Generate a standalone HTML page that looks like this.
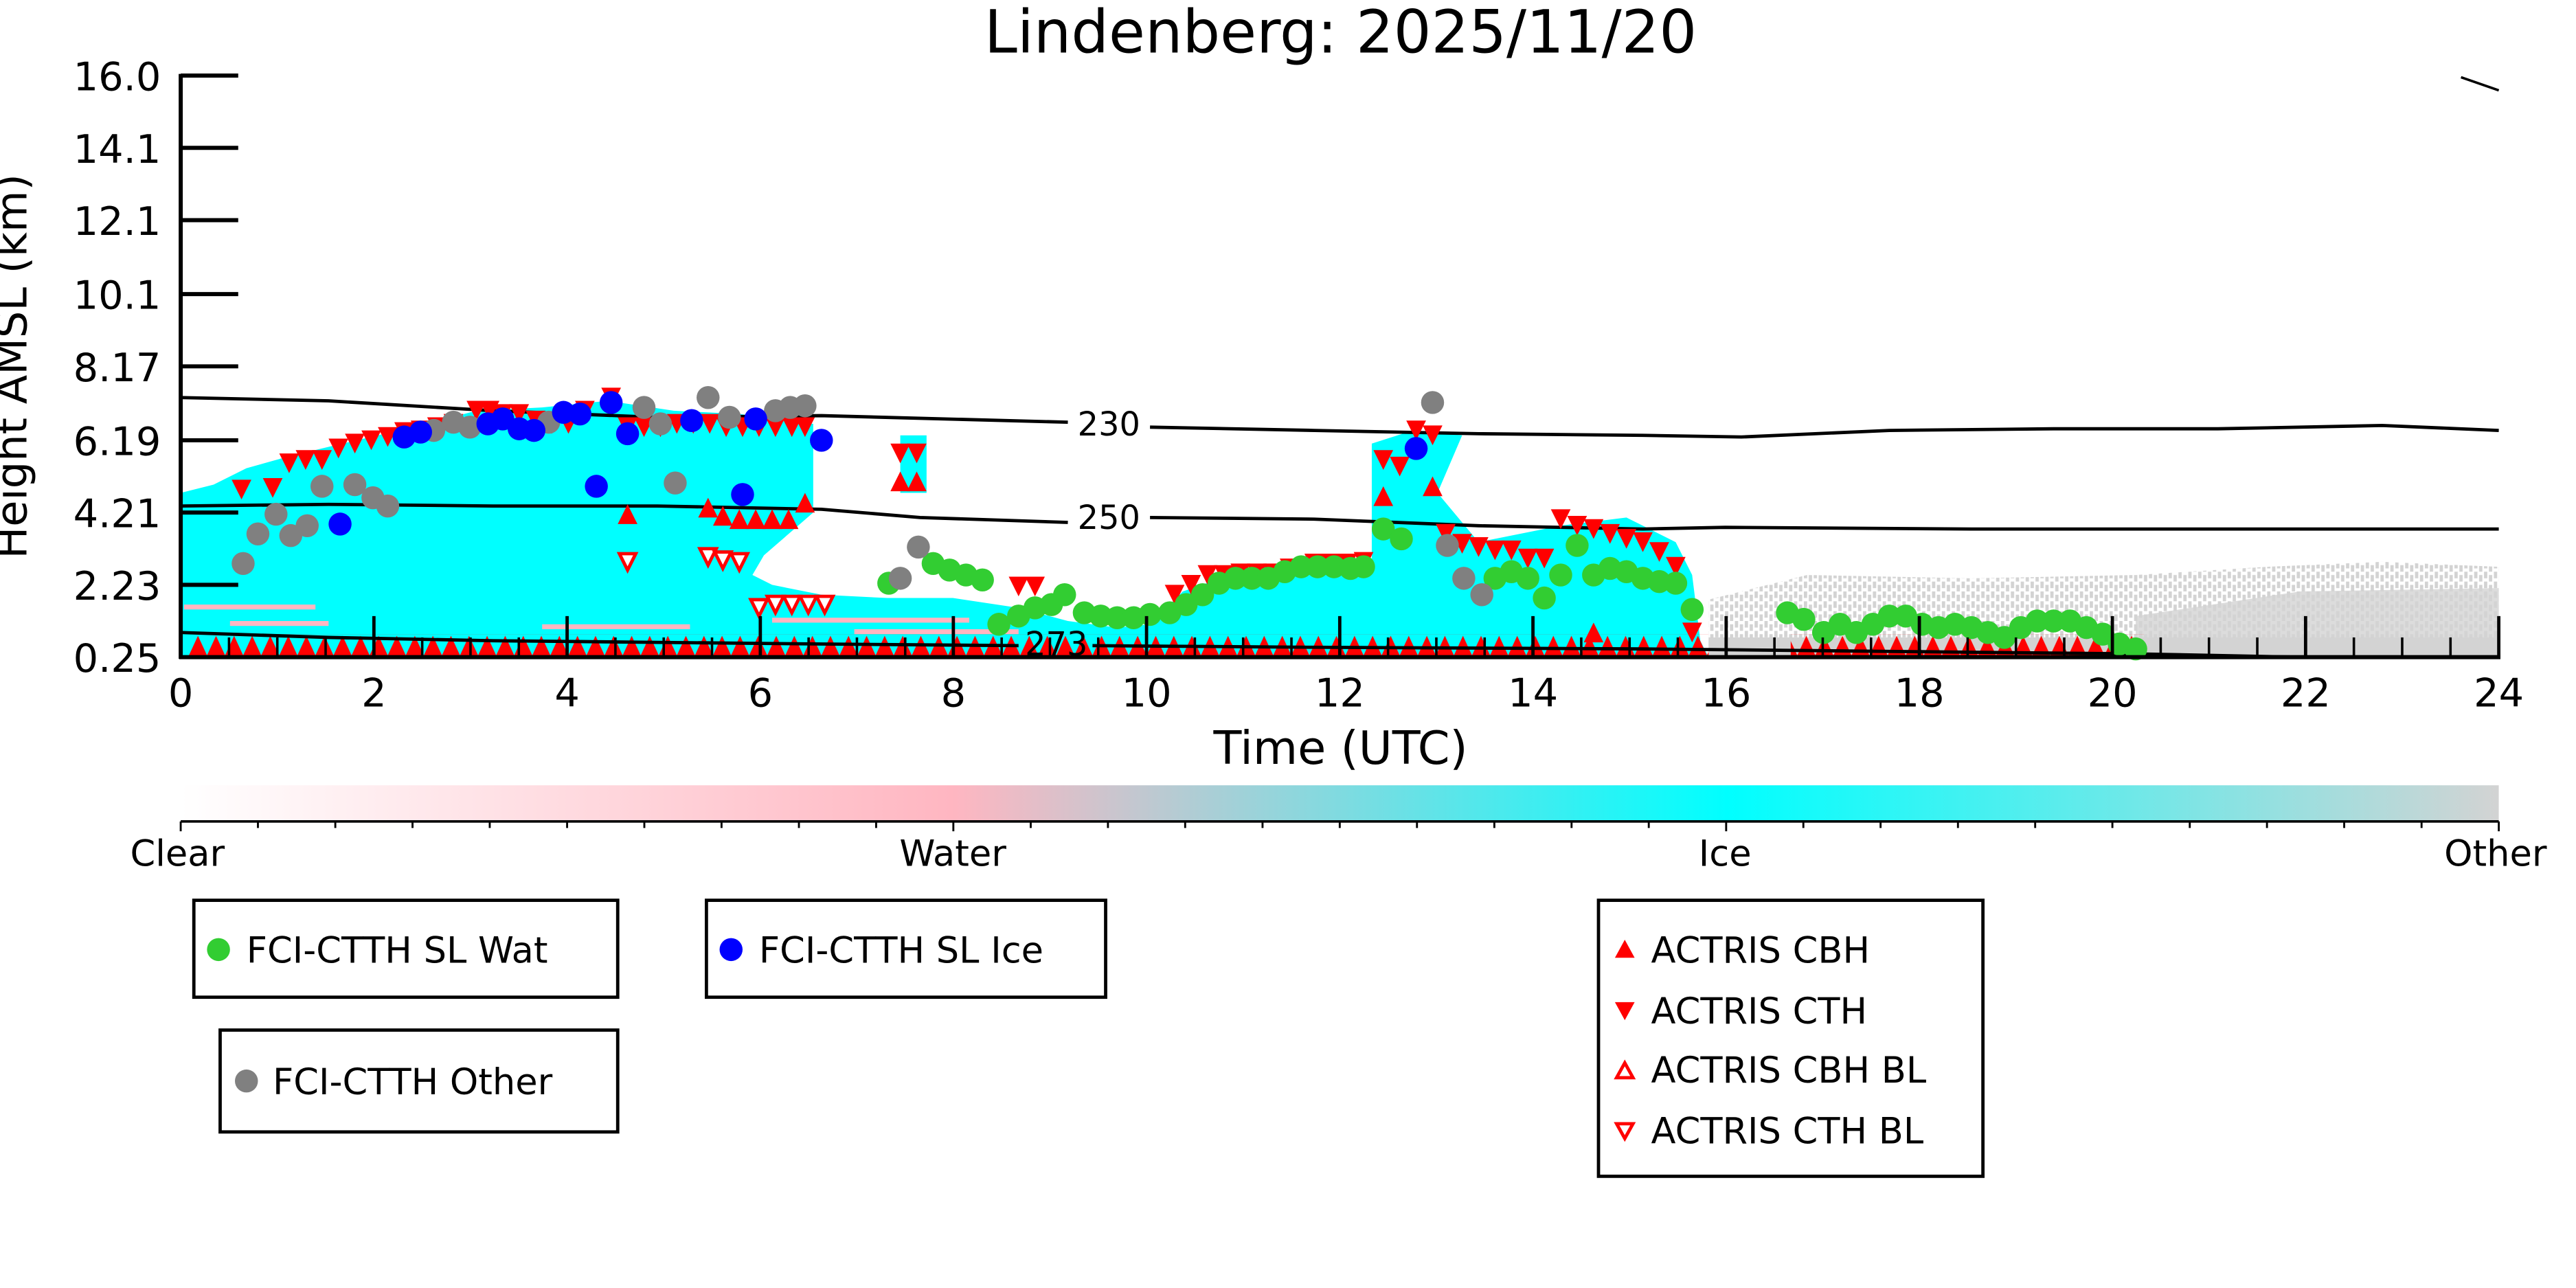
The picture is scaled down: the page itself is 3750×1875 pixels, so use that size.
<!DOCTYPE html>
<html><head><meta charset="utf-8"><style>
html,body{margin:0;padding:0;background:#fff;}
svg{display:block;}
text{font-family:"DejaVu Sans","Liberation Sans",sans-serif;}
</style></head><body>
<svg width="3750" height="1875" viewBox="0 0 1568 784" preserveAspectRatio="none" xmlns="http://www.w3.org/2000/svg">
<defs>
<circle id="c" r="7"/>
<path id="d" d="M-6,-6 L6,-6 L0,6Z"/>
<path id="u" d="M-6,6 L6,6 L0,-6Z"/>
<path id="od" d="M-5,-5 L5,-5 L0,5Z" fill="#fff" stroke="red" stroke-width="2"/>
<pattern id="tri" x="115" y="386" width="11" height="14" patternUnits="userSpaceOnUse">
<path d="M-0.5,14 L11.5,14 L5.5,1Z" fill="red"/>
</pattern>
<pattern id="spk" x="0" y="0" width="6" height="6" patternUnits="userSpaceOnUse">
<rect x="0" y="0" width="2" height="4" fill="#d3d3d3"/><rect x="3" y="2" width="2" height="4" fill="#d3d3d3"/>
</pattern>
<linearGradient id="cb" x1="0" x2="1" y1="0" y2="0">
<stop offset="0" stop-color="#ffffff"/>
<stop offset="0.333" stop-color="#ffb6c1"/>
<stop offset="0.667" stop-color="#00ffff"/>
<stop offset="1" stop-color="#d3d3d3"/>
</linearGradient>
</defs>

<text x="816" y="32" font-size="36" text-anchor="middle">Lindenberg: 2025/11/20</text>

<polygon points="1040,365 1100,350 1200,352 1300,350 1380,345 1450,342 1521,345 1521,400 1040,400" fill="url(#spk)"/>
<polygon points="1300,375 1400,360 1521,358 1521,400 1300,400" fill="#d3d3d3" opacity="0.8"/>
<rect x="1040" y="388" width="481" height="12" fill="#d3d3d3"/>

<polygon fill="#00ffff" points="110,300 130,295 150,285 175,278 200,272 230,265 260,258 290,250 330,248 370,244 410,250 450,252 495,258 495,312 480,325 465,338 458,350 470,356 500,362 540,364 580,364 620,370 650,378 680,382 700,380 720,360 760,346 800,342 835,340 835,270 860,262 890,265 875,300 900,330 950,320 990,315 1020,330 1030,350 1035,390 1040,400 110,400"/>
<rect x="548" y="265" width="16" height="35" fill="#00ffff"/>
<g fill="#ffb6c1">
<rect x="112" y="368" width="80" height="3"/><rect x="140" y="378" width="60" height="3"/><rect x="330" y="380" width="90" height="3"/><rect x="470" y="376" width="120" height="3"/><rect x="520" y="383" width="100" height="3"/>
</g>

<rect x="115" y="386" width="925" height="14" fill="url(#tri)"/>
<rect x="1090" y="386" width="215" height="14" fill="url(#tri)"/>

<g fill="none" stroke="#000" stroke-width="2">
<polyline points="110,242 200,244 300,250 400,254 500,253 650,257"/>
<polyline points="700,260 800,262 900,264 1000,265 1060,266 1150,262 1250,261 1350,261 1450,259 1521,262"/>
<polyline points="110,308 200,307 300,308 400,308 500,310 560,315 650,318"/>
<polyline points="700,315 800,316 850,318 900,320 1000,322 1050,321 1200,322 1350,322 1521,322"/>
<polyline points="110,385 200,388 300,390 400,391 500,392 620,393"/>
<polyline points="665,393 800,394 1000,395 1200,397 1300,398 1400,400"/>
</g>
<text x="675" y="265" font-size="20" text-anchor="middle">230</text>
<text x="675" y="322" font-size="20" text-anchor="middle">250</text>
<text x="643" y="399" font-size="20" text-anchor="middle">273</text>

<g fill="red">
<use href="#d" x="147" y="298"/><use href="#d" x="166" y="297"/><use href="#d" x="176" y="282"/><use href="#d" x="186" y="280"/><use href="#d" x="196" y="280"/><use href="#d" x="206" y="273"/><use href="#d" x="216" y="270"/><use href="#d" x="226" y="268"/><use href="#d" x="236" y="266"/><use href="#d" x="246" y="263"/><use href="#d" x="256" y="262"/><use href="#d" x="266" y="260"/><use href="#d" x="276" y="258"/><use href="#d" x="290" y="250"/><use href="#d" x="298" y="250"/><use href="#d" x="306" y="252"/><use href="#d" x="316" y="252"/><use href="#d" x="326" y="256"/><use href="#d" x="336" y="258"/><use href="#d" x="346" y="258"/><use href="#d" x="356" y="250"/><use href="#d" x="372" y="242"/><use href="#d" x="382" y="260"/><use href="#d" x="392" y="260"/><use href="#d" x="402" y="260"/><use href="#d" x="412" y="258"/><use href="#d" x="422" y="258"/><use href="#d" x="432" y="258"/><use href="#d" x="442" y="260"/><use href="#d" x="452" y="260"/><use href="#d" x="462" y="260"/><use href="#d" x="472" y="260"/><use href="#d" x="482" y="260"/><use href="#d" x="490" y="260"/><use href="#d" x="548" y="276"/><use href="#d" x="558" y="276"/><use href="#d" x="620" y="357"/><use href="#d" x="630" y="357"/><use href="#d" x="715" y="362"/><use href="#d" x="725" y="356"/><use href="#d" x="735" y="350"/><use href="#d" x="745" y="350"/><use href="#d" x="755" y="349"/><use href="#d" x="765" y="349"/><use href="#d" x="775" y="349"/><use href="#d" x="785" y="346"/><use href="#d" x="800" y="343"/><use href="#d" x="810" y="343"/><use href="#d" x="820" y="343"/><use href="#d" x="830" y="342"/><use href="#d" x="842" y="280"/><use href="#d" x="852" y="284"/><use href="#d" x="862" y="262"/><use href="#d" x="872" y="265"/><use href="#d" x="880" y="325"/><use href="#d" x="890" y="331"/><use href="#d" x="900" y="333"/><use href="#d" x="910" y="335"/><use href="#d" x="920" y="335"/><use href="#d" x="930" y="340"/><use href="#d" x="940" y="340"/><use href="#d" x="950" y="316"/><use href="#d" x="960" y="320"/><use href="#d" x="970" y="322"/><use href="#d" x="980" y="325"/><use href="#d" x="990" y="328"/><use href="#d" x="1000" y="330"/><use href="#d" x="1010" y="336"/><use href="#d" x="1020" y="345"/><use href="#d" x="1030" y="385"/>
<use href="#u" x="382" y="313"/><use href="#u" x="431" y="309"/><use href="#u" x="440" y="314"/><use href="#u" x="450" y="316"/><use href="#u" x="460" y="316"/><use href="#u" x="470" y="316"/><use href="#u" x="480" y="316"/><use href="#u" x="490" y="306"/><use href="#u" x="548" y="293"/><use href="#u" x="558" y="293"/><use href="#u" x="842" y="302"/><use href="#u" x="872" y="296"/><use href="#u" x="970" y="385"/>
</g>
<g>
<use href="#od" x="382" y="342"/><use href="#od" x="431" y="339"/><use href="#od" x="440" y="341"/><use href="#od" x="450" y="342"/><use href="#od" x="462" y="370"/><use href="#od" x="472" y="368"/><use href="#od" x="482" y="368"/><use href="#od" x="492" y="368"/><use href="#od" x="502" y="368"/>
</g>

<g fill="#32cd32">
<use href="#c" x="541" y="355"/><use href="#c" x="568" y="343"/><use href="#c" x="578" y="347"/><use href="#c" x="588" y="350"/><use href="#c" x="598" y="353"/><use href="#c" x="608" y="380"/><use href="#c" x="620" y="375"/><use href="#c" x="630" y="370"/><use href="#c" x="640" y="368"/><use href="#c" x="648" y="362"/><use href="#c" x="660" y="373"/><use href="#c" x="670" y="375"/><use href="#c" x="680" y="376"/><use href="#c" x="690" y="376"/><use href="#c" x="700" y="374"/><use href="#c" x="712" y="373"/><use href="#c" x="722" y="368"/><use href="#c" x="732" y="362"/><use href="#c" x="742" y="355"/><use href="#c" x="752" y="352"/><use href="#c" x="762" y="352"/><use href="#c" x="772" y="352"/><use href="#c" x="782" y="348"/><use href="#c" x="792" y="345"/><use href="#c" x="802" y="345"/><use href="#c" x="812" y="345"/><use href="#c" x="822" y="346"/><use href="#c" x="830" y="345"/><use href="#c" x="842" y="322"/><use href="#c" x="853" y="328"/><use href="#c" x="910" y="352"/><use href="#c" x="920" y="348"/><use href="#c" x="930" y="352"/><use href="#c" x="940" y="364"/><use href="#c" x="950" y="350"/><use href="#c" x="960" y="332"/><use href="#c" x="970" y="350"/><use href="#c" x="980" y="346"/><use href="#c" x="990" y="348"/><use href="#c" x="1000" y="352"/><use href="#c" x="1010" y="354"/><use href="#c" x="1020" y="355"/><use href="#c" x="1030" y="371"/><use href="#c" x="1088" y="373"/><use href="#c" x="1098" y="377"/><use href="#c" x="1110" y="385"/><use href="#c" x="1120" y="380"/><use href="#c" x="1130" y="385"/><use href="#c" x="1140" y="380"/><use href="#c" x="1150" y="375"/><use href="#c" x="1160" y="375"/><use href="#c" x="1170" y="380"/><use href="#c" x="1180" y="382"/><use href="#c" x="1190" y="380"/><use href="#c" x="1200" y="382"/><use href="#c" x="1210" y="385"/><use href="#c" x="1220" y="388"/><use href="#c" x="1230" y="382"/><use href="#c" x="1240" y="378"/><use href="#c" x="1250" y="378"/><use href="#c" x="1260" y="378"/><use href="#c" x="1270" y="382"/><use href="#c" x="1280" y="386"/><use href="#c" x="1290" y="392"/><use href="#c" x="1300" y="395"/>
</g>
<g fill="#808080">
<use href="#c" x="148" y="343"/><use href="#c" x="157" y="325"/><use href="#c" x="168" y="313"/><use href="#c" x="177" y="326"/><use href="#c" x="187" y="320"/><use href="#c" x="196" y="296"/><use href="#c" x="216" y="295"/><use href="#c" x="227" y="303"/><use href="#c" x="236" y="308"/><use href="#c" x="264" y="262"/><use href="#c" x="276" y="257"/><use href="#c" x="286" y="260"/><use href="#c" x="334" y="257"/><use href="#c" x="392" y="248"/><use href="#c" x="402" y="258"/><use href="#c" x="411" y="294"/><use href="#c" x="431" y="242"/><use href="#c" x="444" y="254"/><use href="#c" x="472" y="250"/><use href="#c" x="481" y="248"/><use href="#c" x="490" y="247"/><use href="#c" x="548" y="352"/><use href="#c" x="559" y="333"/><use href="#c" x="872" y="245"/><use href="#c" x="881" y="332"/><use href="#c" x="891" y="352"/><use href="#c" x="902" y="362"/>
</g>
<g fill="#0000ff">
<use href="#c" x="207" y="319"/><use href="#c" x="246" y="266"/><use href="#c" x="256" y="263"/><use href="#c" x="297" y="258"/><use href="#c" x="306" y="255"/><use href="#c" x="316" y="261"/><use href="#c" x="325" y="262"/><use href="#c" x="343" y="251"/><use href="#c" x="353" y="252"/><use href="#c" x="363" y="296"/><use href="#c" x="372" y="245"/><use href="#c" x="382" y="264"/><use href="#c" x="421" y="256"/><use href="#c" x="452" y="301"/><use href="#c" x="460" y="255"/><use href="#c" x="500" y="268"/><use href="#c" x="862" y="273"/>
</g>

<g stroke="#000" stroke-width="2.5">
<line x1="110" y1="45" x2="110" y2="401"/>
<line x1="109" y1="400" x2="1522" y2="400"/>
<line x1="1498" y1="47" x2="1521" y2="55" stroke-width="1.5"/>
<line x1="110" y1="46" x2="145" y2="46"/><line x1="110" y1="90" x2="145" y2="90"/><line x1="110" y1="134" x2="145" y2="134"/><line x1="110" y1="179" x2="145" y2="179"/><line x1="110" y1="223" x2="145" y2="223"/><line x1="110" y1="268" x2="145" y2="268"/><line x1="110" y1="312" x2="145" y2="312"/><line x1="110" y1="356" x2="145" y2="356"/>
</g>
<g stroke="#000" stroke-width="2">
<line x1="110" y1="375" x2="110" y2="400"/><line x1="227.6" y1="375" x2="227.6" y2="400"/><line x1="345.2" y1="375" x2="345.2" y2="400"/><line x1="462.8" y1="375" x2="462.8" y2="400"/><line x1="580.3" y1="375" x2="580.3" y2="400"/><line x1="697.9" y1="375" x2="697.9" y2="400"/><line x1="815.5" y1="375" x2="815.5" y2="400"/><line x1="933.1" y1="375" x2="933.1" y2="400"/><line x1="1050.7" y1="375" x2="1050.7" y2="400"/><line x1="1168.3" y1="375" x2="1168.3" y2="400"/><line x1="1285.8" y1="375" x2="1285.8" y2="400"/><line x1="1403.4" y1="375" x2="1403.4" y2="400"/><line x1="1521" y1="375" x2="1521" y2="400"/>
</g>
<g stroke="#000" stroke-width="1.5">
<line x1="139.4" y1="388" x2="139.4" y2="400"/><line x1="168.8" y1="388" x2="168.8" y2="400"/><line x1="198.2" y1="388" x2="198.2" y2="400"/><line x1="257" y1="388" x2="257" y2="400"/><line x1="286.4" y1="388" x2="286.4" y2="400"/><line x1="315.8" y1="388" x2="315.8" y2="400"/><line x1="374.6" y1="388" x2="374.6" y2="400"/><line x1="404" y1="388" x2="404" y2="400"/><line x1="433.4" y1="388" x2="433.4" y2="400"/><line x1="492.2" y1="388" x2="492.2" y2="400"/><line x1="521.6" y1="388" x2="521.6" y2="400"/><line x1="551" y1="388" x2="551" y2="400"/><line x1="609.7" y1="388" x2="609.7" y2="400"/><line x1="639.1" y1="388" x2="639.1" y2="400"/><line x1="668.5" y1="388" x2="668.5" y2="400"/><line x1="727.3" y1="388" x2="727.3" y2="400"/><line x1="756.7" y1="388" x2="756.7" y2="400"/><line x1="786.1" y1="388" x2="786.1" y2="400"/><line x1="844.9" y1="388" x2="844.9" y2="400"/><line x1="874.3" y1="388" x2="874.3" y2="400"/><line x1="903.7" y1="388" x2="903.7" y2="400"/><line x1="962.5" y1="388" x2="962.5" y2="400"/><line x1="991.9" y1="388" x2="991.9" y2="400"/><line x1="1021.3" y1="388" x2="1021.3" y2="400"/><line x1="1080.1" y1="388" x2="1080.1" y2="400"/><line x1="1109.5" y1="388" x2="1109.5" y2="400"/><line x1="1138.9" y1="388" x2="1138.9" y2="400"/><line x1="1197.7" y1="388" x2="1197.7" y2="400"/><line x1="1227.1" y1="388" x2="1227.1" y2="400"/><line x1="1256.5" y1="388" x2="1256.5" y2="400"/><line x1="1315.2" y1="388" x2="1315.2" y2="400"/><line x1="1344.6" y1="388" x2="1344.6" y2="400"/><line x1="1374" y1="388" x2="1374" y2="400"/><line x1="1432.8" y1="388" x2="1432.8" y2="400"/><line x1="1462.2" y1="388" x2="1462.2" y2="400"/><line x1="1491.6" y1="388" x2="1491.6" y2="400"/>
</g>
<g font-size="24" text-anchor="end">
<text x="98" y="55">16.0</text><text x="98" y="99">14.1</text><text x="98" y="143">12.1</text><text x="98" y="188">10.1</text><text x="98" y="232">8.17</text><text x="98" y="277">6.19</text><text x="98" y="321">4.21</text><text x="98" y="365">2.23</text><text x="98" y="409">0.25</text>
</g>
<g font-size="24" text-anchor="middle">
<text x="110" y="430">0</text><text x="227.6" y="430">2</text><text x="345.2" y="430">4</text><text x="462.8" y="430">6</text><text x="580.3" y="430">8</text><text x="697.9" y="430">10</text><text x="815.5" y="430">12</text><text x="933.1" y="430">14</text><text x="1050.7" y="430">16</text><text x="1168.3" y="430">18</text><text x="1285.8" y="430">20</text><text x="1403.4" y="430">22</text><text x="1521" y="430">24</text>
</g>
<text x="816" y="465" font-size="28" text-anchor="middle">Time (UTC)</text>
<text transform="translate(16,223) rotate(-90)" font-size="26" text-anchor="middle">Height AMSL (km)</text>

<rect x="110" y="478" width="1411" height="22" fill="url(#cb)"/>
<line x1="110" y1="500" x2="1521" y2="500" stroke="#000" stroke-width="1.5"/>
<g stroke="#000" stroke-width="1.2">
<line x1="110" y1="500" x2="110" y2="506"/><line x1="157" y1="500" x2="157" y2="504"/><line x1="204.1" y1="500" x2="204.1" y2="504"/><line x1="251.1" y1="500" x2="251.1" y2="504"/><line x1="298.1" y1="500" x2="298.1" y2="504"/><line x1="345.2" y1="500" x2="345.2" y2="504"/><line x1="392.2" y1="500" x2="392.2" y2="504"/><line x1="439.2" y1="500" x2="439.2" y2="504"/><line x1="486.3" y1="500" x2="486.3" y2="504"/><line x1="533.3" y1="500" x2="533.3" y2="504"/><line x1="580.3" y1="500" x2="580.3" y2="506"/><line x1="627.4" y1="500" x2="627.4" y2="504"/><line x1="674.4" y1="500" x2="674.4" y2="504"/><line x1="721.4" y1="500" x2="721.4" y2="504"/><line x1="768.5" y1="500" x2="768.5" y2="504"/><line x1="815.5" y1="500" x2="815.5" y2="504"/><line x1="862.5" y1="500" x2="862.5" y2="504"/><line x1="909.6" y1="500" x2="909.6" y2="504"/><line x1="956.6" y1="500" x2="956.6" y2="504"/><line x1="1003.6" y1="500" x2="1003.6" y2="504"/><line x1="1050.7" y1="500" x2="1050.7" y2="506"/><line x1="1097.7" y1="500" x2="1097.7" y2="504"/><line x1="1144.7" y1="500" x2="1144.7" y2="504"/><line x1="1191.8" y1="500" x2="1191.8" y2="504"/><line x1="1238.8" y1="500" x2="1238.8" y2="504"/><line x1="1285.8" y1="500" x2="1285.8" y2="504"/><line x1="1332.9" y1="500" x2="1332.9" y2="504"/><line x1="1379.9" y1="500" x2="1379.9" y2="504"/><line x1="1426.9" y1="500" x2="1426.9" y2="504"/><line x1="1474" y1="500" x2="1474" y2="504"/><line x1="1521" y1="500" x2="1521" y2="506"/>
</g>
<g font-size="22" text-anchor="middle">
<text x="108" y="527">Clear</text><text x="580" y="527">Water</text><text x="1050" y="527">Ice</text><text x="1519" y="527">Other</text>
</g>

<g fill="none" stroke="#000" stroke-width="2">
<rect x="118" y="548" width="258" height="59"/>
<rect x="430" y="548" width="243" height="59"/>
<rect x="134" y="627" width="242" height="62"/>
<rect x="973" y="548" width="234" height="168"/>
</g>
<g font-size="22">
<circle cx="133" cy="578" r="7" fill="#32cd32"/><text x="150" y="586">FCI-CTTH SL Wat</text>
<circle cx="445" cy="578" r="7" fill="#0000ff"/><text x="462" y="586">FCI-CTTH SL Ice</text>
<circle cx="150" cy="658" r="7" fill="#808080"/><text x="166" y="666">FCI-CTTH Other</text>
<path d="M983,583 L995,583 L989,572Z" fill="red"/><text x="1005" y="586">ACTRIS CBH</text>
<path d="M983,610 L995,610 L989,621Z" fill="red"/><text x="1005" y="623">ACTRIS CTH</text>
<path d="M984,656 L994,656 L989,647Z" fill="#fff" stroke="red" stroke-width="2"/><text x="1005" y="659">ACTRIS CBH BL</text>
<path d="M984,684 L994,684 L989,693Z" fill="#fff" stroke="red" stroke-width="2"/><text x="1005" y="696">ACTRIS CTH BL</text>
</g>
</svg>
</body></html>
